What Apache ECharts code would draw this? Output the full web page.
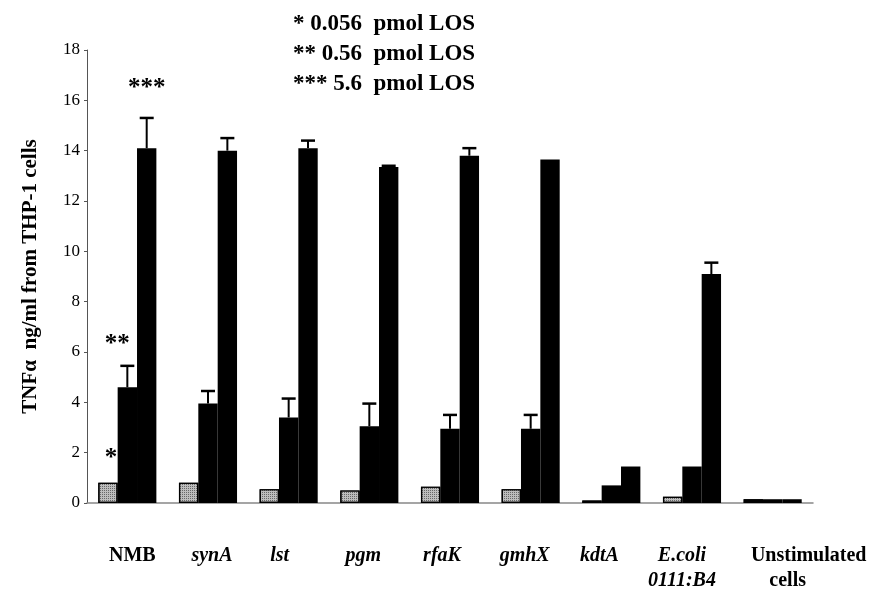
<!DOCTYPE html>
<html><head><meta charset="utf-8">
<script src="https://cdn.jsdelivr.net/npm/echarts@6/dist/echarts.min.js"></script>
<style>html,body{margin:0;padding:0;background:#fff}#c{width:872px;height:597px}</style>
</head><body><div id="c"></div>
<script>
// ---- data ----
const categories = ['NMB','synA','lst','pgm','rfaK','gmhX','kdtA','E.coli\n0111:B4','Unstimulated\ncells'];
const italicCats = [false,true,true,true,true,true,true,true,false];
const yTicks = [0,2,4,6,8,10,12,14,16,18];
const lowDose  = [0.8, 0.8, 0.55, 0.5, 0.65, 0.55, 0.1, 0.25, 0.15];   // * 0.056 pmol LOS
const midDose  = [4.6, 3.95, 3.4, 3.05, 2.95, 2.95, 0.7, 1.45, 0.15];  // ** 0.56 pmol LOS
const highDose = [14.1, 14.0, 14.1, 13.35, 13.8, 13.65, 1.45, 9.1, 0.15]; // *** 5.6 pmol LOS
const midErrTop  = [5.45, 4.45, 4.15, 3.95, 3.5, 3.5, null, null, null];
const highErrTop = [15.3, 14.5, 14.4, 13.4, 14.1, null, null, 9.55, null];
const starMarks = ['*','**','***'];
const starValues = [1.75, 6.3, 16.45];
const legendLines = ['* 0.056  pmol LOS','** 0.56  pmol LOS','*** 5.6  pmol LOS'];
const yName = 'TNFα  ng/ml from THP-1 cells';

// ---- layout (not data) ----
const BAR = 0.24;
const SERIF = '"Liberation Serif","Times New Roman",serif';
const labelNudge = [5, 4, -9, -6, -8, -6, -12, -10, 36];
const secondLineNudge = [0, 0, 0, 0, 0, 0, 0, 0, -21];
const starNudge = [3, -10, 0];

const chart = echarts.init(document.getElementById('c'), null, {renderer:'canvas'});

function errorSeries(vals, tops, slot){
  const data = [];
  tops.forEach((t,i)=>{ if(t!=null) data.push([i, vals[i], t]); });
  return {
    type:'custom', silent:true, z:10, data,
    encode:{x:0, y:2},
    renderItem:(params, api)=>{
      const i = api.value(0), v = api.value(1), t = api.value(2);
      const band = api.size([1,0])[0];
      const w = band*BAR;
      const x = api.coord([i,0])[0] + (slot-1)*w;
      const y1 = api.coord([i,v])[1], y2 = api.coord([i,t])[1];
      return {type:'group', children:[
        {type:'line', shape:{x1:x,y1:y1,x2:x,y2:y2}, style:{stroke:'#000', lineWidth:2}},
        {type:'line', shape:{x1:x-7,y1:y2,x2:x+7,y2:y2}, style:{stroke:'#000', lineWidth:2.5}}
      ]};
    }
  };
}

const starSeries = {
  type:'custom', silent:true, z:11,
  data: starMarks.map((s,k)=>[0, starValues[k], k]),
  encode:{x:0, y:1},
  renderItem:(params, api)=>{
    const v = api.value(1), k = api.value(2);
    const band = api.size([1,0])[0];
    const w = band*BAR;
    const p = api.coord([0, v]);
    return {type:'text', x:p[0] + (k-1)*w + starNudge[k], y:p[1],
      style:{text:starMarks[k], font:'bold 25px '+SERIF, fill:'#000', align:'center', verticalAlign:'middle'}};
  }
};

function pad(d){ return d < 0 ? [0, -2*d, 0, 0] : [0, 0, 0, 2*d]; }
const richStyles = {};
categories.forEach((c,idx)=>{
  const base = {fontFamily:SERIF, fontWeight:'bold', fontStyle: italicCats[idx] ? 'italic' : 'normal',
    fontSize:20, color:'#000', lineHeight:25};
  richStyles['a'+idx] = Object.assign({padding:pad(labelNudge[idx])}, base);
  richStyles['b'+idx] = Object.assign({padding:pad(labelNudge[idx] + secondLineNudge[idx])}, base);
});

const stipple = {symbol:'rect', symbolSize:1, dashArrayX:[[1,1]], dashArrayY:[1,1], color:'rgba(0,0,0,0.45)'};

chart.setOption({
  animation:false,
  backgroundColor:'#fff',
  title:{
    text: legendLines.join('\n'), left:288, top:4,
    textStyle:{fontFamily:SERIF, fontWeight:'bold', fontSize:23, color:'#000', lineHeight:30}
  },
  grid:{left:87, right:59, top:50, bottom:94, containLabel:false},
  xAxis:{
    type:'category', data:categories,
    axisLine:{lineStyle:{color:'#888', width:1.5}},
    axisTick:{show:false},
    axisLabel:{
      margin:40, interval:0,
      formatter:(val, idx)=> val.split('\n').map((s,l)=>'{'+(l===0?'a':'b')+idx+'|'+s+'}').join('\n'),
      rich:richStyles
    }
  },
  yAxis:{
    type:'value', min:yTicks[0], max:yTicks[yTicks.length-1], interval:yTicks[1]-yTicks[0],
    name:yName, nameLocation:'middle', nameGap:46, nameRotate:90,
    nameTextStyle:{fontFamily:SERIF, fontWeight:'bold', fontSize:21, color:'#000'},
    axisLine:{show:true, lineStyle:{color:'#555', width:1}},
    axisTick:{show:true, length:3, lineStyle:{color:'#555'}},
    axisLabel:{fontFamily:SERIF, fontSize:17, color:'#000', margin:7},
    splitLine:{show:false}
  },
  series:[
    {type:'bar', name:'0.056',
     data:lowDose.map((v,i)=> i===8 ? {value:v, itemStyle:{color:'#000', decal:{symbol:'rect', color:'#000'}}} : v),
     barWidth:(BAR*100)+'%', barGap:'0%',
     itemStyle:{color:'#bdbdbd', borderColor:'#000', borderWidth:1.2, decal:stipple}},
    {type:'bar', name:'0.56', data:midDose, barWidth:(BAR*100)+'%', barGap:'0%', itemStyle:{color:'#000'}},
    {type:'bar', name:'5.6', data:highDose, barWidth:(BAR*100)+'%', barGap:'0%', itemStyle:{color:'#000'}},
    errorSeries(midDose, midErrTop, 1),
    errorSeries(highDose, highErrTop, 2),
    starSeries
  ]
});
</script></body></html>
